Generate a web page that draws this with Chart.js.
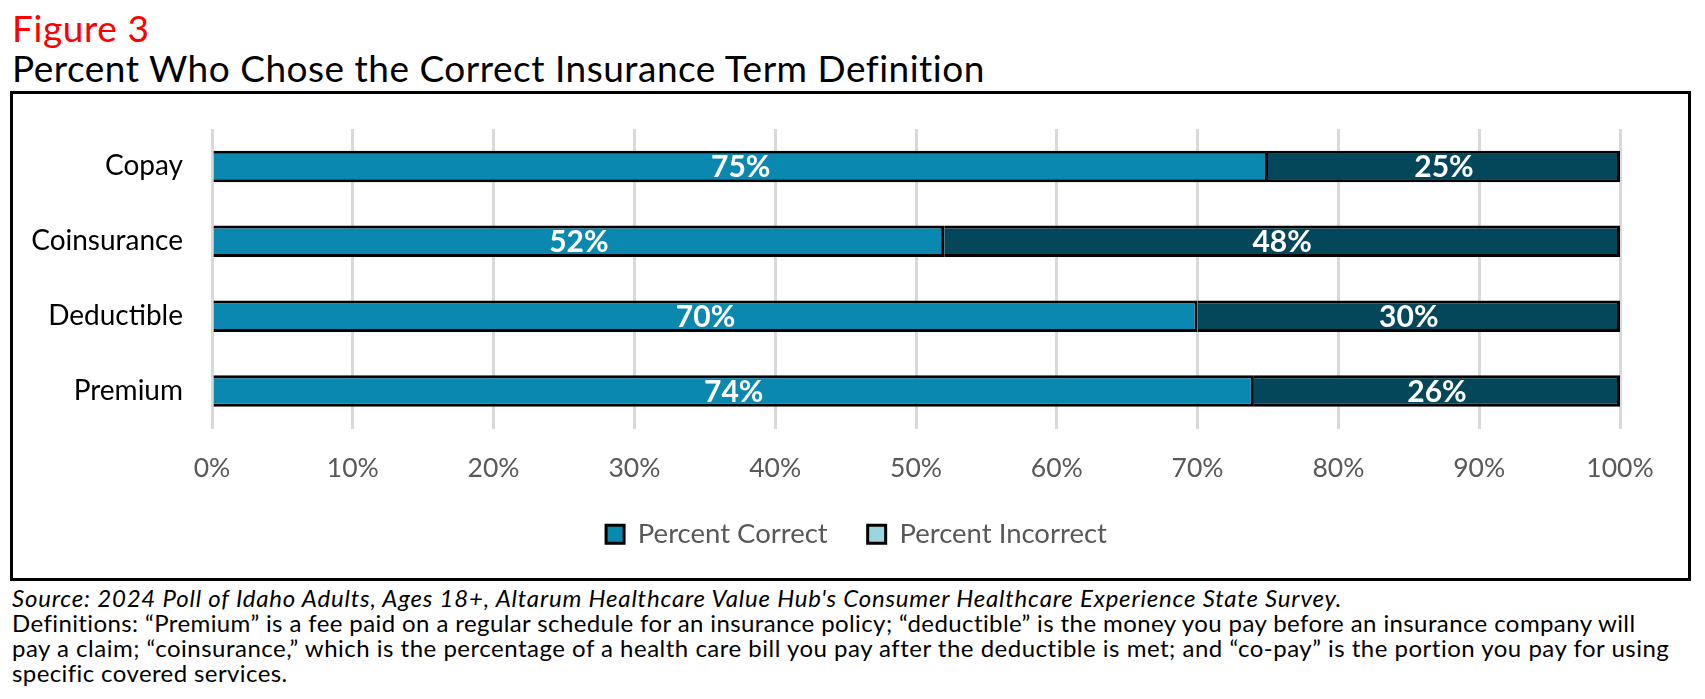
<!DOCTYPE html>
<html>
<head>
  <title>Figure 3</title>
  <script src="https://cdn.jsdelivr.net/npm/chart.js"></script>
  <style>
    body {
      margin: 0;
      width: 1705px;
      height: 699px;
      background: #fff;
      font-family: Lato, sans-serif;
      position: relative;
      overflow: hidden;
    }
    #fig {
      position: absolute;
      left: 12px;
      top: 9px;
      font-size: 37px;
      line-height: 37px;
      letter-spacing: 0.6px;
      color: #ff0000;
      white-space: nowrap;
    }
    #title {
      position: absolute;
      left: 12px;
      top: 49px;
      font-size: 37px;
      line-height: 37px;
      letter-spacing: 0.5px;
      color: #000;
      white-space: nowrap;
    }
    #box {
      position: absolute;
      left: 10px;
      top: 91px;
      width: 1681px;
      height: 490px;
      border: 3px solid #000;
      box-sizing: border-box;
    }
    #box canvas {
      position: absolute;
      left: 0;
      top: 0;
    }
    #notes {
      position: absolute;
      left: 12px;
      top: 585px;
      font-size: 24px;
      line-height: 25px;
      letter-spacing: 0.4px;
      color: #000;
      white-space: nowrap;
    }
    #notes i { font-style: italic; letter-spacing: 0.8px; }
  </style>
</head>
<body>
  <div id="fig">Figure 3</div>
  <div id="title">Percent Who Chose the Correct Insurance Term Definition</div>

  <div id="box">
    <canvas id="barChart" width="1675" height="484"></canvas>
  </div>

  <div id="notes">
    <i>Source: 2024 Poll of Idaho Adults, Ages 18+, Altarum Healthcare Value Hub's Consumer Healthcare Experience State Survey.</i><br>
    Definitions: “Premium” is a fee paid on a regular schedule for an insurance policy; “deductible” is the money you pay before an insurance company will<br>
    <span style="letter-spacing:0.5px">pay a claim; “coinsurance,” which is the percentage of a health care bill you pay after the deductible is met; and “co-pay” is the portion you pay for using</span><br>
    specific covered services.
  </div>

  <script>
    // data
    const terms = ['Copay', 'Coinsurance', 'Deductible', 'Premium'];
    const pctCorrect = [75, 52, 70, 74];
    const pctIncorrect = [25, 48, 30, 26];
    const xTicks = [0, 10, 20, 30, 40, 50, 60, 70, 80, 90, 100];

    const correctColor = '#0b88b0';
    const incorrectColor = '#05475a';
    const incorrectLegendColor = '#9dd5df';

    // white % labels in the middle of each bar segment
    const barLabels = {
      id: 'barLabels',
      afterDatasetsDraw(chart) {
        const ctx = chart.ctx;
        ctx.save();
        ctx.fillStyle = '#fff';
        ctx.font = 'bold 30px Lato';
        ctx.textAlign = 'center';
        ctx.textBaseline = 'middle';
        chart.data.datasets.forEach((ds, i) => {
          chart.getDatasetMeta(i).data.forEach((bar, j) => {
            const cx = (bar.x + bar.base) / 2;
            ctx.fillText(ds.data[j] + '%', cx, bar.y + 1);
          });
        });
        ctx.restore();
      }
    };

    // legend sits a bit right of the canvas centre in the original
    const nudgeLegend = {
      id: 'nudgeLegend',
      afterLayout(chart) {
        chart.legend.left += 40;
        chart.legend.right += 40;
      }
    };

    new Chart(document.getElementById('barChart'), {
      type: 'bar',
      data: {
        labels: terms,
        datasets: [
          {
            label: 'Percent Correct',
            data: pctCorrect,
            backgroundColor: correctColor,
            borderColor: '#000',
            borderWidth: 3
          },
          {
            label: 'Percent Incorrect',
            data: pctIncorrect,
            backgroundColor: incorrectColor,
            borderColor: '#000',
            borderWidth: 3
          }
        ]
      },
      options: {
        indexAxis: 'y',
        responsive: false,
        animation: false,
        barPercentage: 0.42,
        categoryPercentage: 1,
        layout: { padding: { top: 35, right: 68, left: 0, bottom: 20 } },
        plugins: {
          tooltip: { enabled: false },
          legend: {
            position: 'bottom',
            labels: {
              font: { family: 'Lato', size: 27.5 },
              color: '#595959',
              boxWidth: 18,
              boxHeight: 18,
              padding: 40,
              generateLabels(chart) {
                return chart.data.datasets.map((ds, i) => ({
                  text: ds.label,
                  fillStyle: i === 0 ? correctColor : incorrectLegendColor,
                  strokeStyle: '#000',
                  lineWidth: 3,
                  fontColor: '#595959',
                  datasetIndex: i
                }));
              }
            }
          }
        },
        scales: {
          x: {
            stacked: true,
            min: 0,
            max: 100,
            afterBuildTicks(scale) {
              scale.ticks = xTicks.map(v => ({ value: v }));
            },
            afterFit(scale) { scale.height = 52; },
            grid: { color: '#d9d9d9', lineWidth: 3, drawTicks: false },
            border: { display: false },
            ticks: {
              padding: 24,
              color: '#595959',
              font: { family: 'Lato', size: 26.5 },
              callback: v => v + '%'
            }
          },
          y: {
            stacked: true,
            afterFit(scale) {
              scale.width = 199;
              scale.paddingTop = 0;
              scale.paddingBottom = 0;
            },
            grid: { display: false, drawTicks: false },
            border: { display: false },
            ticks: {
              padding: 29,
              color: '#000',
              font: { family: 'Lato', size: 28 }
            }
          }
        }
      },
      plugins: [barLabels, nudgeLegend]
    });
  </script>
</body>
</html>
